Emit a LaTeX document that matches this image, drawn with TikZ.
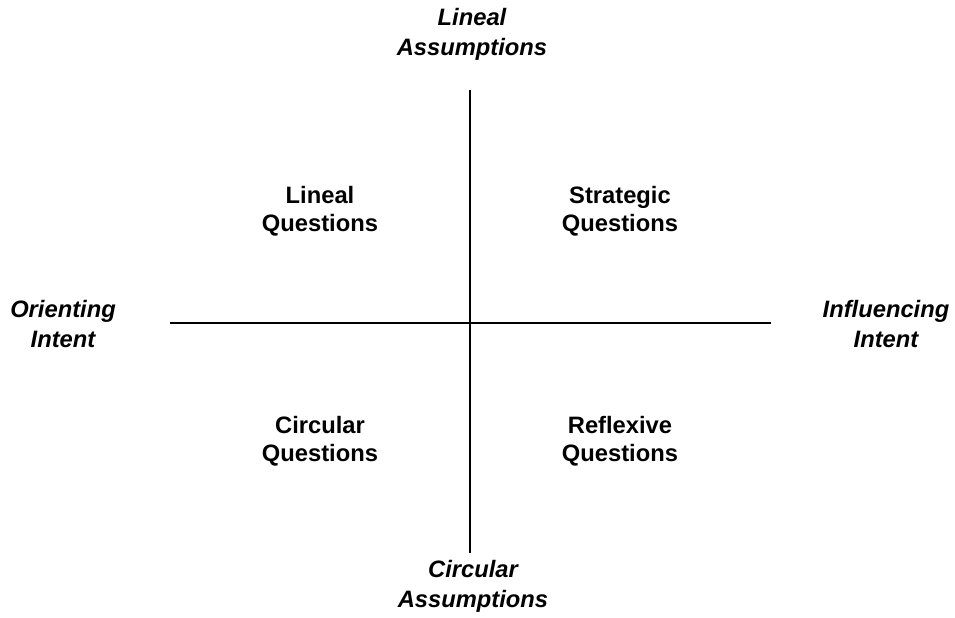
\documentclass[tikz,border=0pt]{standalone}
\usepackage{fontspec}
\setmainfont{Liberation Sans}
\begin{document}
\begin{tikzpicture}[x=0.75pt,y=0.75pt,
  axis/.style={line width=0.9pt,black},
  quad/.style={align=center,font=\fontsize{17.8}{21}\selectfont\bfseries,inner sep=0pt},
  pole/.style={align=center,font=\fontsize{17.8}{22.5}\selectfont\bfseries\itshape,inner sep=0pt}]
\useasboundingbox[fill=white] (0,0) rectangle (955,617);
\coordinate (vt) at (470,527);
\coordinate (vb) at (470,64);
\coordinate (hl) at (170,294);
\coordinate (hr) at (771,294);
\draw[axis] (vt) -- (vb);
\draw[axis] (hl) -- (hr);
\node[pole] (la) at (472,583) {Lineal\\Assumptions};
\node[pole] (ca) at (473,31) {Circular\\Assumptions};
\node[pole] (oi) at (63,293) {Orienting\\Intent};
\node[pole] (ii) at (886,293) {Influencing\\Intent};
\node[quad] (lq) at (320,406) {Lineal\\Questions};
\node[quad] (sq) at (620,406) {Strategic\\Questions};
\node[quad] (cq) at (320,176) {Circular\\Questions};
\node[quad] (rq) at (620,176) {Reflexive\\Questions};
\end{tikzpicture}
\end{document}
